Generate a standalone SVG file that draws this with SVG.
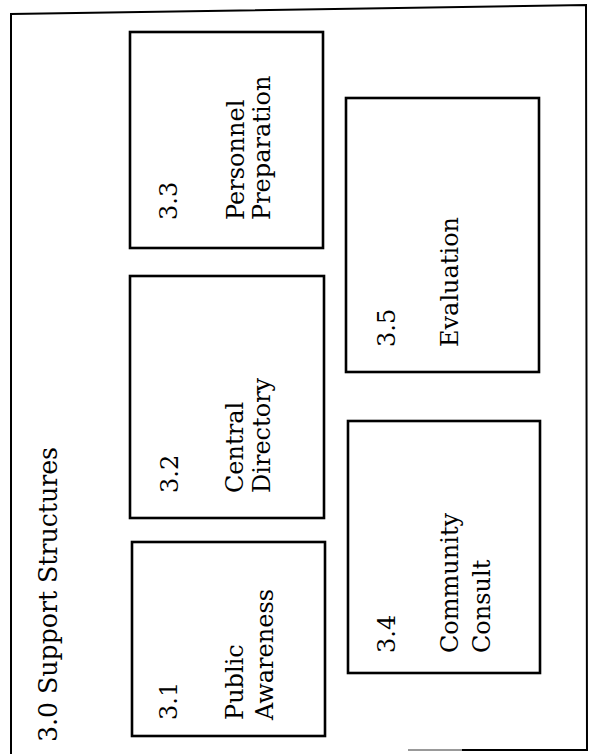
<svg xmlns="http://www.w3.org/2000/svg" width="592" height="754" viewBox="0 0 592 754">
<style>
.box{fill:#fff;stroke:#000;stroke-width:2.6}
.frame{fill:none;stroke:#000;stroke-width:2}
text{font-family:"DejaVu Serif","Liberation Serif",serif;fill:#000;font-size:24px}
.title{font-size:26px}
</style>
<rect x="0" y="0" width="592" height="754" fill="#fff"/>
<g id="frame">
<path class="frame" d="M11,754 L11,14 L586,5 L587,750 L462,750"/>
<path d="M462,750 L408,750" stroke="#999" stroke-width="2" fill="none"/>
<text class="title" transform="translate(57,742) rotate(-90)" textLength="295" lengthAdjust="spacingAndGlyphs">3.0 Support Structures</text>
</g>
<g id="connectors"></g>
<g id="n33">
<rect class="box" x="130" y="32" width="193" height="216"/>
<text transform="translate(177,220) rotate(-90)">3.3</text>
<text transform="translate(244,220) rotate(-90)">Personnel</text>
<text transform="translate(270,220) rotate(-90)">Preparation</text>
</g>
<g id="n32">
<rect class="box" x="130" y="276" width="194" height="242"/>
<text transform="translate(178,493) rotate(-90)">3.2</text>
<text transform="translate(243,493) rotate(-90)">Central</text>
<text transform="translate(270,493) rotate(-90)">Directory</text>
</g>
<g id="n31">
<rect class="box" x="132" y="542" width="193" height="194"/>
<text transform="translate(177,720) rotate(-90)">3.1</text>
<text transform="translate(243,720) rotate(-90)">Public</text>
<text transform="translate(273,720) rotate(-90)">Awareness</text>
</g>
<g id="n35">
<rect class="box" x="346" y="98" width="193" height="274"/>
<text transform="translate(395,347) rotate(-90)">3.5</text>
<text transform="translate(458,347) rotate(-90)">Evaluation</text>
</g>
<g id="n34">
<rect class="box" x="348" y="421" width="192" height="252"/>
<text transform="translate(395,653) rotate(-90)">3.4</text>
<text transform="translate(458,653) rotate(-90)">Community</text>
<text transform="translate(490,653) rotate(-90)">Consult</text>
</g>
</svg>
